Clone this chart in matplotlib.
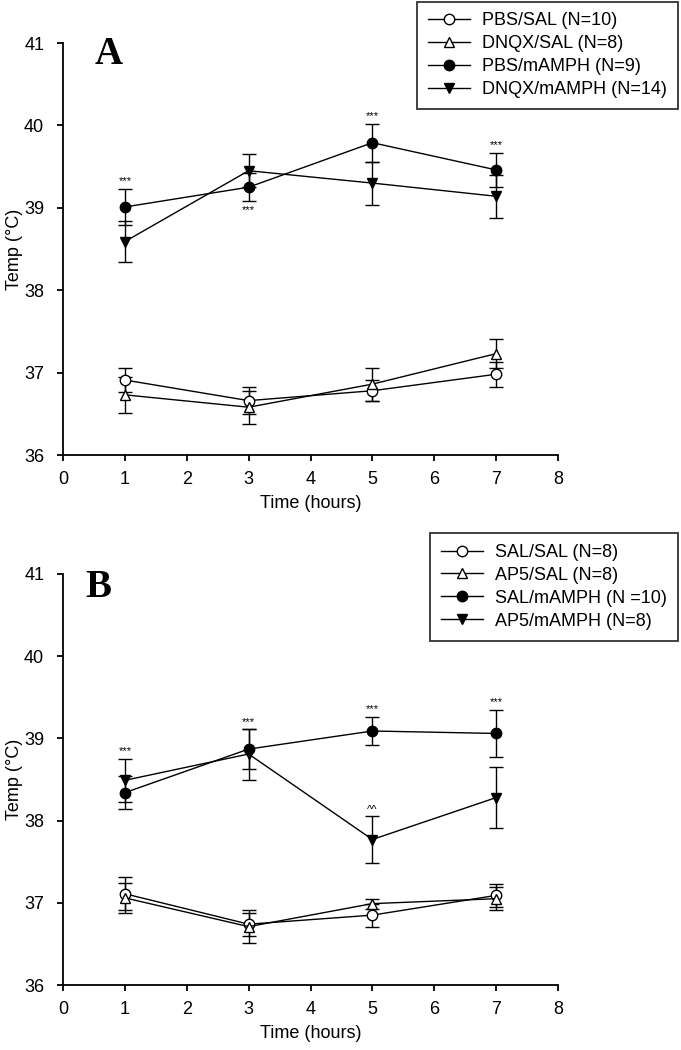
import matplotlib
matplotlib.use("Agg")
import matplotlib.pyplot as plt

plt.rcParams["font.family"] = ["Liberation Sans", "DejaVu Sans"]

hours = [1, 3, 5, 7]

# panel A
a_labels = ["PBS/SAL (N=10)", "DNQX/SAL (N=8)", "PBS/mAMPH (N=9)", "DNQX/mAMPH (N=14)"]
a_means = [
    [36.91, 36.66, 36.78, 36.98],
    [36.73, 36.58, 36.86, 37.23],
    [39.01, 39.25, 39.79, 39.46],
    [38.59, 39.45, 39.30, 39.14],
]
a_sems = [
    [0.15, 0.16, 0.13, 0.15],
    [0.22, 0.20, 0.20, 0.18],
    [0.22, 0.17, 0.23, 0.21],
    [0.25, 0.20, 0.26, 0.26],
]

# panel B
b_labels = ["SAL/SAL (N=8)", "AP5/SAL (N=8)", "SAL/mAMPH (N =10)", "AP5/mAMPH (N=8)"]
b_means = [
    [37.11, 36.74, 36.85, 37.09],
    [37.06, 36.71, 36.99, 37.05],
    [38.34, 38.87, 39.09, 39.06],
    [38.49, 38.81, 37.77, 38.28],
]
b_sems = [
    [0.20, 0.14, 0.14, 0.14],
    [0.18, 0.20, 0.06, 0.14],
    [0.20, 0.24, 0.17, 0.29],
    [0.26, 0.31, 0.28, 0.37],
]

markers = ["o", "^", "o", "v"]
faces = ["white", "white", "black", "black"]


def draw_panel(ax, means, sems, labels):
    handles = []
    for m, s, mk, fc, lab in zip(means, sems, markers, faces, labels):
        eb = ax.errorbar(hours, m, yerr=s, color="black", lw=1.0, elinewidth=1.0,
                         capsize=5, capthick=1.0, marker=mk, mfc=fc, mec="black",
                         ms=7.5, mew=1.0)
        # legend shows only line + marker, no error bar
        handles.append(eb[0])
    ax.set_xlim(0, 8)
    ax.set_ylim(36, 41)
    ax.set_xticks(range(0, 9))
    ax.set_yticks(range(36, 42))
    ax.spines["top"].set_visible(False)
    ax.spines["right"].set_visible(False)
    for sp in ("left", "bottom"):
        ax.spines[sp].set_linewidth(1.3)
    ax.tick_params(direction="out", length=4, width=1.3, labelsize=13)
    ax.tick_params(axis="x", pad=7.5)
    ax.tick_params(axis="y", pad=9.5)
    ax.set_xlabel("Time (hours)", fontsize=13, labelpad=5)
    ax.set_ylabel("Temp (\u00b0C)", fontsize=13, labelpad=1)
    return handles


fig = plt.figure(figsize=(6.81, 10.5), dpi=100)
W, H = 681, 1050

axA = fig.add_axes([63 / W, 1 - 455 / H, 495 / W, 412 / H])
hA = draw_panel(axA, a_means, a_sems, a_labels)
axB = fig.add_axes([63 / W, 1 - 985 / H, 495 / W, 411 / H])
hB = draw_panel(axB, b_means, b_sems, b_labels)

for ax, hs, labs, top in ((axA, hA, a_labels, 1.5), (axB, hB, b_labels, 533)):
    leg = ax.legend(hs, labs, loc="upper right",
                    bbox_to_anchor=(678 / W, 1 - top / H), bbox_transform=fig.transFigure,
                    fontsize=13, frameon=True, fancybox=False, edgecolor="black",
                    handlelength=2.3, handletextpad=0.7, borderpad=0.6,
                    labelspacing=0.33, borderaxespad=0)
    leg.get_frame().set_linewidth(1.3)

# panel letters
fig.text(95 / W, 1 - 36 / H, "A", fontsize=28, fontweight="bold",
         family="Liberation Serif", va="top", ha="left")
fig.text(85 / W, 1 - 569 / H, "B", fontsize=28, fontweight="bold",
         family="Liberation Serif", va="top", ha="left")

# significance marks
star_kw = dict(ha="center", fontsize=8)
axA.text(1, a_means[2][0] + a_sems[2][0] + 0.03, "***", va="bottom", **star_kw)
axA.text(3, a_means[2][1] - a_sems[2][1] - 0.05, "***", va="top", **star_kw)
axA.text(5, a_means[2][2] + a_sems[2][2] + 0.03, "***", va="bottom", **star_kw)
axA.text(7, a_means[2][3] + a_sems[2][3] + 0.03, "***", va="bottom", **star_kw)

axB.text(1, b_means[3][0] + b_sems[3][0] + 0.03, "***", va="bottom", **star_kw)
axB.text(3, b_means[2][1] + b_sems[2][1] + 0.03, "***", va="bottom", **star_kw)
axB.text(5, b_means[2][2] + b_sems[2][2] + 0.03, "***", va="bottom", **star_kw)
axB.text(7, b_means[2][3] + b_sems[2][3] + 0.03, "***", va="bottom", **star_kw)
axB.text(5, b_means[3][2] + b_sems[3][2] + 0.02, "^^", va="bottom", **star_kw)

fig.savefig("out.png", dpi=100)
